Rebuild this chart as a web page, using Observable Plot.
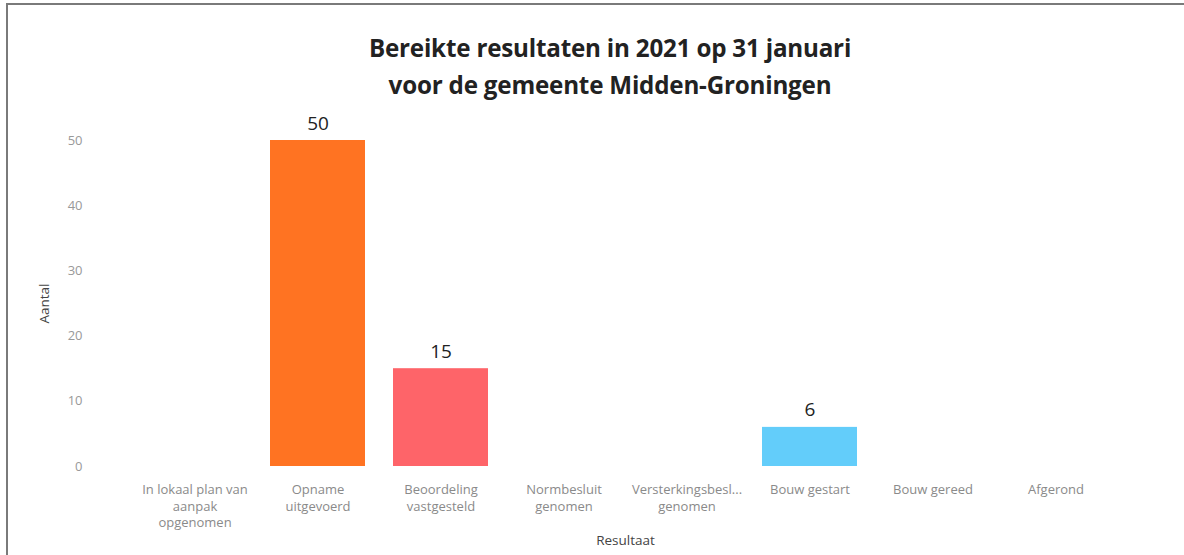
<!DOCTYPE html>
<html>
<head>
<meta charset="utf-8">
<script src="https://cdn.jsdelivr.net/npm/d3@7"></script>
<script src="https://cdn.jsdelivr.net/npm/@observablehq/plot@0.6"></script>
<style>
  html, body { margin: 0; padding: 0; background: #fff; width: 1184px; height: 555px; overflow: hidden; }
  #frame { position: absolute; left: 6px; top: 3px; width: 1180px; height: 570px; border-top: 2px solid #7a7a7a; border-left: 2px solid #7a7a7a; box-sizing: border-box; }
  #title { position: absolute; left: 260px; width: 700px; top: 29px; text-align: center; font-family: "Open Sans", sans-serif; font-weight: 700; font-size: 24.2px; line-height: 37px; color: #222; letter-spacing: -0.2px; }
  #chart { position: absolute; left: 0; top: 110px; }
</style>
</head>
<body>
<div id="frame"></div>
<div id="title">Bereikte resultaten in 2021 op 31 januari<br>voor de gemeente Midden-Groningen</div>
<div id="chart"></div>
<script>
const categories = [
  "In lokaal plan van aanpak opgenomen",
  "Opname uitgevoerd",
  "Beoordeling vastgesteld",
  "Normbesluit genomen",
  "Versterkingsbesluit genomen",
  "Bouw gestart",
  "Bouw gereed",
  "Afgerond"
];
const tickLabels = [
  "In lokaal plan van\naanpak\nopgenomen",
  "Opname\nuitgevoerd",
  "Beoordeling\nvastgesteld",
  "Normbesluit\ngenomen",
  "Versterkingsbesl...\ngenomen",
  "Bouw gestart",
  "Bouw gereed",
  "Afgerond"
];
const values = [0, 50, 15, 0, 0, 6, 0, 0];
const colors = ["#8c8cff", "#ff7322", "#fe6469", "#00cc96", "#ab63fa", "#63cdfa", "#b6e880", "#ff97ff"];
const yTicks = [0, 10, 20, 30, 40, 50];

const data = categories.map((c, i) => ({cat: c, value: values[i], color: colors[i]}));
const labelOf = new Map(categories.map((c, i) => [c, tickLabels[i]]));

const chart = Plot.plot({
  width: 1184,
  height: 445,
  marginLeft: 130,
  marginRight: 64,
  marginTop: 30,
  marginBottom: 89,
  style: { fontFamily: "'Open Sans', sans-serif", background: "transparent" },
  x: { domain: categories, paddingInner: 0.225, paddingOuter: 0.1125 },
  y: { domain: [0, 50] },
  marks: [
    Plot.barY(data, { x: "cat", y: "value", fill: "color" }),
    Plot.text(data.filter(d => d.value > 0), {
      x: "cat", y: "value", text: d => String(d.value),
      dy: -17, fontSize: 19, fill: "#222"
    }),
    Plot.axisY({
      ticks: yTicks, tickSize: 0, tickPadding: 48, fontSize: 13, color: "#999",
      label: "Aantal", labelAnchor: "center", labelArrow: "none", labelOffset: 91
    }),
    Plot.axisX({
      tickSize: 0, tickPadding: 16, fontSize: 13, color: "#8a8a8a", lineHeight: 1.27,
      tickFormat: d => labelOf.get(d),
      label: "Resultaat", labelAnchor: "center", labelArrow: "none", labelOffset: 78
    })
  ]
});
document.getElementById("chart").appendChild(chart);
// darker axis titles
chart.querySelectorAll("[aria-label='y-axis label'] text, [aria-label='x-axis label'] text").forEach(t => {
  t.setAttribute("fill", "#444"); t.style.fontSize = "13.5px";
});
</script>
</body>
</html>
